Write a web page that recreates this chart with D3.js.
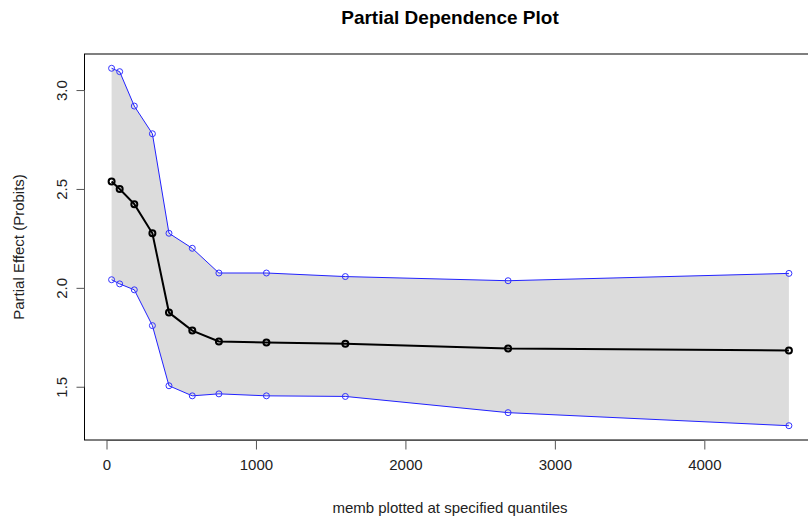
<!DOCTYPE html>
<html>
<head>
<meta charset="utf-8">
<script src="https://cdn.jsdelivr.net/npm/d3@7"></script>
<style>
  html, body { margin: 0; padding: 0; background: #fff; }
  svg { display: block; font-family: "Liberation Sans", Arial, sans-serif; }
</style>
</head>
<body>
<svg id="chart" width="808" height="518"></svg>
<script>
// memb values at the specified quantiles
const membQuantiles = [34, 88, 186, 307, 418, 574, 752, 1070, 1598, 2687, 4566];
// partial effect (probits) and its confidence band
const effectMean  = [2.538, 2.500, 2.423, 2.276, 1.875, 1.784, 1.729, 1.724, 1.717, 1.693, 1.683];
const effectUpper = [3.110, 3.093, 2.919, 2.779, 2.276, 2.200, 2.075, 2.075, 2.057, 2.036, 2.073];
const effectLower = [2.041, 2.020, 1.990, 1.809, 1.505, 1.454, 1.464, 1.454, 1.451, 1.369, 1.303];
const xTicks = [0, 1000, 2000, 3000, 4000];
const yTicks = [1.5, 2.0, 2.5, 3.0];

const svg = d3.select("#chart");
const box = { left: 84.5, right: 816, top: 54, bottom: 440 };
const labelFont = 15;

// R-style 4% padding around the data range
function padded(lo, hi) { const d = (hi - lo) * 0.04; return [lo - d, hi + d]; }
const xDom = padded(d3.min(membQuantiles), d3.max(membQuantiles));
const yDom = padded(d3.min(effectLower), d3.max(effectUpper));

const x = d3.scaleLinear().domain(xDom).range([box.left, box.right]);
const y = d3.scaleLinear().domain(yDom).range([box.bottom, box.top]);

const idx = d3.range(membQuantiles.length);

// confidence band
const band = d3.area()
  .x(i => x(membQuantiles[i]))
  .y0(i => y(effectLower[i]))
  .y1(i => y(effectUpper[i]));
svg.append("path").datum(idx).attr("d", band).attr("fill", "#dcdcdc");

// band edges
const line = arr => d3.line().x(i => x(membQuantiles[i])).y(i => y(arr[i]));
[effectUpper, effectLower].forEach(arr => {
  svg.append("path").datum(idx).attr("d", line(arr))
    .attr("fill", "none").attr("stroke", "#2222ff").attr("stroke-width", 1);
  svg.append("g").selectAll("circle").data(idx).join("circle")
    .attr("cx", i => x(membQuantiles[i])).attr("cy", i => y(arr[i])).attr("r", 3)
    .attr("fill", "none").attr("stroke", "#3333ff").attr("stroke-width", 1);
});

// mean partial effect
svg.append("path").datum(idx).attr("d", line(effectMean))
  .attr("fill", "none").attr("stroke", "#000").attr("stroke-width", 2);
svg.append("g").selectAll("circle").data(idx).join("circle")
  .attr("cx", i => x(membQuantiles[i])).attr("cy", i => y(effectMean[i])).attr("r", 3)
  .attr("fill", "none").attr("stroke", "#000").attr("stroke-width", 2);

// plot frame
svg.append("rect")
  .attr("x", box.left).attr("y", box.top)
  .attr("width", box.right - box.left).attr("height", box.bottom - box.top)
  .attr("fill", "none").attr("stroke", "#000").attr("stroke-width", 1);

// x axis
const xAxis = svg.append("g").attr("transform", `translate(0,${box.bottom + 0.5})`)
  .call(d3.axisBottom(x).tickValues(xTicks).tickFormat(d3.format("d")).tickSize(9).tickPadding(10).tickSizeOuter(0));
xAxis.select(".domain").attr("d", `M${x(xTicks[0])},0H${x(xTicks[xTicks.length - 1])}`).attr("stroke", "#555");
xAxis.selectAll(".tick line").attr("stroke", "#555");
xAxis.selectAll("text").attr("font-size", labelFont).attr("fill", "#222").attr("font-family", "Liberation Sans, Arial, sans-serif");

// y axis with labels parallel to the axis
const yAxis = svg.append("g").attr("transform", `translate(${box.left},0)`)
  .call(d3.axisLeft(y).tickValues(yTicks).tickFormat(d3.format(".1f")).tickSize(8).tickSizeOuter(0));
yAxis.select(".domain").attr("d", `M0,${y(yTicks[0])}V${y(yTicks[yTicks.length - 1])}`).attr("stroke", "#555");
yAxis.selectAll(".tick line").attr("stroke", "#555");
yAxis.selectAll(".tick text")
  .attr("x", null).attr("dy", null)
  .attr("text-anchor", "middle")
  .attr("transform", "translate(-23,0) rotate(-90)")
  .attr("dy", "0.35em")
  .attr("font-size", labelFont).attr("fill", "#222").attr("font-family", "Liberation Sans, Arial, sans-serif");

// titles
svg.append("text").attr("x", 450).attr("y", 24).attr("text-anchor", "middle")
  .attr("font-size", 19).attr("font-weight", "bold").attr("fill", "#000")
  .text("Partial Dependence Plot");
svg.append("text").attr("x", 450).attr("y", 513).attr("text-anchor", "middle")
  .attr("font-size", labelFont).attr("fill", "#222")
  .text("memb plotted at specified quantiles");
svg.append("text").attr("transform", "translate(24,247) rotate(-90)").attr("text-anchor", "middle")
  .attr("font-size", labelFont).attr("fill", "#222")
  .text("Partial Effect (Probits)");
</script>
</body>
</html>
